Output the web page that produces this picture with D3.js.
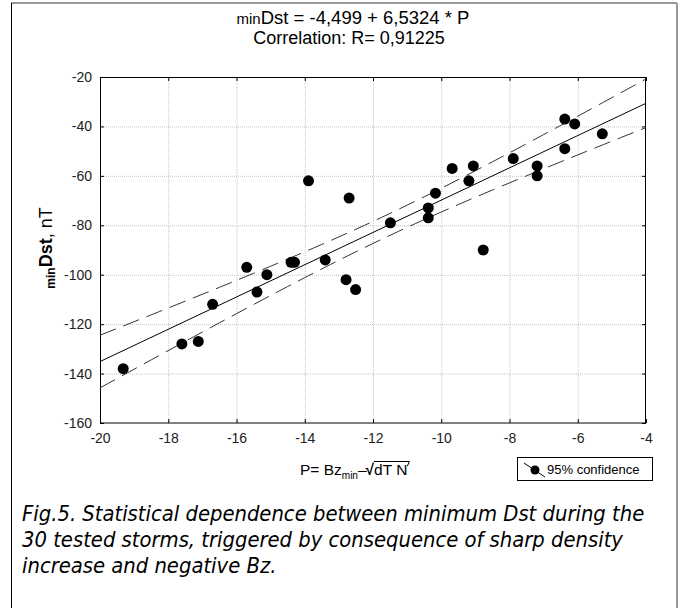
<!DOCTYPE html>
<html lang="en">
<head>
  <meta charset="UTF-8">
  <title>minDst vs P</title>
  <script src="https://d3js.org/d3.v7.min.js"></script>
  <style>
    body { margin: 0; background: #fff; }
    text { font-family: "Liberation Sans", Arial, sans-serif; }
    .tick text { font-size: 14px; fill: #222; font-family: "Liberation Sans", Arial, sans-serif; }
    .grid line { stroke: #c4c4c4; stroke-dasharray: 1,1; }
    .caption { font-family: "DejaVu Sans Condensed", "DejaVu Sans", sans-serif; font-style: italic; font-size: 21.8px; }
  </style>
</head>
<body>
<script>
// data
var pVals = [-19.32, -17.60, -17.12, -16.70, -15.70, -15.40, -15.11, -14.40, -14.30, -13.89,
             -13.40, -12.79, -12.70, -12.51, -11.49, -10.38, -10.38, -10.17, -9.68, -9.19,
             -9.06, -8.77, -7.89, -7.19, -7.19, -6.38, -6.09, -6.38, -5.28];
var dstVals = [-138, -128, -127, -112, -97, -107, -100, -95, -95, -62,
               -94, -102, -69, -106, -79, -73, -77, -67, -57, -62,
               -56, -90, -53, -56, -60, -37, -39, -49, -43];
var xTicks = [-20, -18, -16, -14, -12, -10, -8, -6, -4];
var yTicks = [-160, -140, -120, -100, -80, -60, -40, -20];
var intercept = -4.499, slope = 6.5324;

var W = 682, H = 608;
var svg = d3.select("body").append("svg").attr("width", W).attr("height", H);

// outer frame
svg.append("line").attr("x1", 11).attr("x2", 677).attr("y1", 3).attr("y2", 3)
  .attr("stroke", "#999").attr("stroke-width", 2);
svg.append("line").attr("x1", 11.5).attr("x2", 11.5).attr("y1", 3).attr("y2", H)
  .attr("stroke", "#000");
svg.append("line").attr("x1", 677).attr("x2", 677).attr("y1", 3).attr("y2", H)
  .attr("stroke", "#999").attr("stroke-width", 2);

var x = d3.scaleLinear().domain([-20, -4]).range([100, 646]);
var y = d3.scaleLinear().domain([-160, -20]).range([423, 77]);
var fmt = d => String(d); // plain hyphen minus

// grid
var g = svg.append("g").attr("class", "grid");
g.selectAll(".gx").data(xTicks.slice(1, -1)).enter().append("line")
  .attr("x1", d => x(d) + 0.5).attr("x2", d => x(d) + 0.5).attr("y1", 77).attr("y2", 423);
g.selectAll(".gy").data(yTicks.slice(1, -1)).enter().append("line")
  .attr("y1", d => y(d) + 0.5).attr("y2", d => y(d) + 0.5).attr("x1", 100).attr("x2", 646);

// axes with inward ticks
svg.append("g").attr("transform", "translate(0,423)")
  .call(d3.axisBottom(x).tickValues(xTicks).tickFormat(fmt).tickSizeInner(-4).tickSizeOuter(0).tickPadding(10))
  .call(a => a.select(".domain").remove());
svg.append("g").attr("transform", "translate(100,0)")
  .call(d3.axisLeft(y).tickValues(yTicks).tickFormat(fmt).tickSizeInner(-4).tickSizeOuter(0).tickPadding(8))
  .call(a => a.select(".domain").remove());
svg.append("g").attr("transform", "translate(0,77)")
  .call(d3.axisTop(x).tickValues(xTicks).tickSizeInner(-4).tickSizeOuter(0).tickFormat(""))
  .call(a => a.select(".domain").remove());
svg.append("g").attr("transform", "translate(646,0)")
  .call(d3.axisRight(y).tickValues(yTicks).tickSizeInner(-4).tickSizeOuter(0).tickFormat(""))
  .call(a => a.select(".domain").remove());
svg.selectAll(".tick line").attr("stroke", "#000");
svg.append("rect").attr("x", 100.5).attr("y", 77.5).attr("width", 545).attr("height", 345.5)
  .attr("fill", "none").attr("stroke", "#000");

// regression + 95% confidence band
var n = pVals.length;
var xbar = d3.mean(pVals);
var sxx = d3.sum(pVals, v => (v - xbar) * (v - xbar));
var sse = d3.sum(pVals, (v, i) => Math.pow(dstVals[i] - (intercept + slope * v), 2));
var s = Math.sqrt(sse / (n - 2));
var tCrit = 2.05;
var xs = d3.range(-20, -3.99, 0.25);
function half(v) { return tCrit * s * Math.sqrt(1 / n + (v - xbar) * (v - xbar) / sxx); }

var plot = svg.append("g");
plot.append("path")
  .attr("d", d3.line().x(d => x(d)).y(d => y(intercept + slope * d))([-20, -4]))
  .attr("fill", "none").attr("stroke", "#000").attr("stroke-width", 1);
[1, -1].forEach(function(sign) {
  plot.append("path")
    .attr("d", d3.line().x(d => x(d)).y(d => y(intercept + slope * d + sign * half(d)))(xs))
    .attr("fill", "none").attr("stroke", "#333").attr("stroke-width", 1)
    .attr("stroke-dasharray", "17,8");
});

plot.selectAll(".pt").data(pVals).enter().append("circle")
  .attr("cx", d => x(d)).attr("cy", (d, i) => y(dstVals[i])).attr("r", 5.5)
  .attr("fill", "#000");

// title
var t1 = svg.append("text").attr("x", 353).attr("y", 24).attr("text-anchor", "middle")
  .style("font-size", "18.5px");
t1.append("tspan").text("min").style("font-size", "15px");
t1.append("tspan").text("Dst = -4,499 + 6,5324 * P");
svg.append("text").attr("x", 349).attr("y", 44).attr("text-anchor", "middle")
  .style("font-size", "18px").text("Correlation: R= 0,91225");

// y label
var yl = svg.append("text").attr("transform", "translate(52,248) rotate(-90)")
  .attr("text-anchor", "middle").style("font-size", "18px");
yl.append("tspan").text("min").style("font-size", "12px").style("font-weight", "bold").attr("dy", 3);
yl.append("tspan").text("Dst").style("font-weight", "bold").attr("dy", -3);
yl.append("tspan").text(", nT");

// x label
var xl = svg.append("text").attr("x", 300).attr("y", 475).style("font-size", "15.5px");
xl.append("tspan").text("P= Bz");
xl.append("tspan").text("min").style("font-size", "10px").attr("dy", 4);
xl.append("tspan").text("\u2013").attr("dy", -4);
xl.append("tspan").text("\u221A").style("font-weight", "bold").attr("dx", -1);
xl.append("tspan").text("dT N");
var node = xl.node();
var ox1 = node.getStartPositionOfChar(10).x, ox2 = node.getEndPositionOfChar(13).x + 2;
svg.append("line").attr("x1", ox1).attr("x2", ox2).attr("y1", 461.5).attr("y2", 461.5)
  .attr("stroke", "#000");
svg.append("line").attr("x1", ox2).attr("x2", ox2 - 2).attr("y1", 461.5).attr("y2", 466)
  .attr("stroke", "#000");

// legend
svg.append("rect").attr("x", 517.5).attr("y", 457.5).attr("width", 135).attr("height", 23)
  .attr("fill", "#fff").attr("stroke", "#000");
svg.append("line").attr("x1", 524).attr("y1", 463).attr("x2", 545).attr("y2", 477)
  .attr("stroke", "#000");
svg.append("circle").attr("cx", 535).attr("cy", 470).attr("r", 4.5).attr("fill", "#000");
svg.append("text").attr("x", 547).attr("y", 474).style("font-size", "13px").text("95% confidence");

// caption
var cap = ["Fig.5. Statistical dependence between minimum Dst during the",
           "30 tested storms, triggered by consequence of sharp density",
           "increase and negative Bz."];
svg.selectAll(".caption").data(cap).enter().append("text").attr("class", "caption")
  .attr("x", 22).attr("y", (d, i) => 521 + i * 26).text(d => d);
</script>
</body>
</html>
